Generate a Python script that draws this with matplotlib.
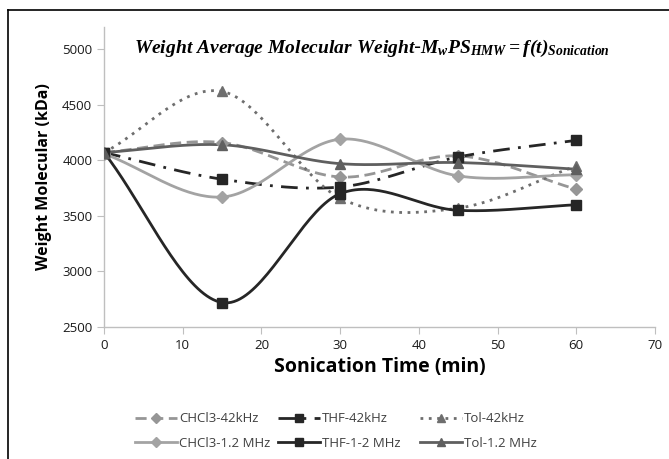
import numpy as np
import matplotlib
matplotlib.use("Agg")
import matplotlib.pyplot as plt
from matplotlib.lines import Line2D

time_min = [0, 15, 30, 45, 60]
chcl3_42khz = [4070, 4160, 3850, 4040, 3740]
thf_42khz = [4070, 3830, 3760, 4030, 4180]
tol_42khz = [4070, 4620, 3660, 3570, 3950]
chcl3_12mhz = [4060, 3670, 4190, 3860, 3870]
thf_12mhz = [4070, 2720, 3700, 3550, 3600]
tol_12mhz = [4070, 4140, 3970, 3980, 3920]

series_labels = ["CHCl3-42kHz", "THF-42kHz", "Tol-42kHz",
                 "CHCl3-1.2 MHz", "THF-1-2 MHz", "Tol-1.2 MHz"]
x_ticks = [0, 10, 20, 30, 40, 50, 60, 70]
y_ticks = [2500, 3000, 3500, 4000, 4500, 5000]


def smooth(x, y, n=40):
    x = np.asarray(x, float)
    y = np.asarray(y, float)
    px = np.concatenate([[2 * x[0] - x[1]], x, [2 * x[-1] - x[-2]]])
    py = np.concatenate([[2 * y[0] - y[1]], y, [2 * y[-1] - y[-2]]])
    xs, ys = [], []
    t = np.linspace(0, 1, n)
    for i in range(1, len(px) - 2):
        p0, p1, p2, p3 = px[i - 1], px[i], px[i + 1], px[i + 2]
        q0, q1, q2, q3 = py[i - 1], py[i], py[i + 1], py[i + 2]
        bx = 0.5 * (2 * p1 + (-p0 + p2) * t + (2 * p0 - 5 * p1 + 4 * p2 - p3) * t ** 2 + (-p0 + 3 * p1 - 3 * p2 + p3) * t ** 3)
        by = 0.5 * (2 * q1 + (-q0 + q2) * t + (2 * q0 - 5 * q1 + 4 * q2 - q3) * t ** 2 + (-q0 + 3 * q1 - 3 * q2 + q3) * t ** 3)
        xs.append(bx)
        ys.append(by)
    return np.concatenate(xs), np.concatenate(ys)


plt.rcParams['mathtext.fontset'] = 'custom'
plt.rcParams['mathtext.it'] = 'Liberation Serif:italic:bold'
plt.rcParams['mathtext.rm'] = 'Liberation Serif:italic:bold'
plt.rcParams['mathtext.bf'] = 'Liberation Serif:italic:bold'

fig = plt.figure(figsize=(6.69, 4.59), dpi=100)
ax = fig.add_axes([104 / 669, 1 - 327 / 459, (655 - 104) / 669, 300 / 459])

styles = [
    dict(color="#969696", ls=(0, (4, 2)), lw=2.0, marker="D", ms=6, mc="#969696"),
    dict(color="#262626", ls=(0, (6, 3, 1, 3)), lw=2.0, marker="s", ms=7, mc="#262626"),
    dict(color="#6e6e6e", ls=(0, (1, 2)), lw=2.0, marker="^", ms=7, mc="#6e6e6e"),
    dict(color="#a3a3a3", ls="-", lw=2.0, marker="D", ms=6, mc="#a3a3a3"),
    dict(color="#262626", ls="-", lw=2.0, marker="s", ms=7, mc="#262626"),
    dict(color="#5f5f5f", ls="-", lw=2.0, marker="^", ms=7, mc="#5f5f5f"),
]
data = [chcl3_42khz, thf_42khz, tol_42khz, chcl3_12mhz, thf_12mhz, tol_12mhz]

handles = []
for vals, st, lab in zip(data, styles, series_labels):
    sx, sy = smooth(time_min, vals)
    ax.plot(sx, sy, color=st["color"], ls=st["ls"], lw=st["lw"], zorder=2)
    ax.plot(time_min, vals, ls="none", marker=st["marker"], ms=st["ms"],
            color=st["mc"], zorder=3)
    handles.append(Line2D([], [], color=st["color"], ls=st["ls"], lw=st["lw"],
                          marker=st["marker"], ms=st["ms"] - 1, mfc=st["mc"], mec=st["mc"],
                          label=lab))

ax.set_xlim(0, 70)
ax.set_ylim(2500, 5200)
ax.set_xticks(x_ticks)
ax.set_yticks(y_ticks)
for s in ["top", "right"]:
    ax.spines[s].set_visible(False)
for s in ["left", "bottom"]:
    ax.spines[s].set_color("#bfbfbf")
    ax.spines[s].set_linewidth(1.0)
ax.tick_params(axis="both", colors="#bfbfbf", labelcolor="#1a1a1a", length=5,
               labelsize=9.5, direction="out")
for lbl in ax.get_xticklabels() + ax.get_yticklabels():
    lbl.set_fontfamily("Open Sans")

ax.set_xlabel("Sonication Time (min)", fontsize=14, fontweight="bold",
              fontfamily="Open Sans", labelpad=4)
ax.set_ylabel("Weight Molecular (kDa)", fontsize=11.5, fontweight="bold",
              fontfamily="Open Sans", labelpad=7)

ax.text(0.487, 0.93,
        r"$Weight\ Average\ Molecular\ Weight$-$M_wPS_{HMW}=f(t)_{Sonication}$",
        transform=ax.transAxes, ha="center", va="center", fontsize=14)

legprops = {"family": "Open Sans", "size": 9.5}
col_x = [135, 278, 420]
for c in range(3):
    lg = fig.legend([handles[c], handles[c + 3]],
                    [series_labels[c], series_labels[c + 3]],
                    ncol=1, loc="center left",
                    bbox_to_anchor=(col_x[c] / 669, 1 - 431 / 459), frameon=False,
                    prop=legprops, handlelength=3.2, handletextpad=0.15,
                    borderpad=0, borderaxespad=0, labelspacing=0.85)
    for t in lg.get_texts():
        t.set_color("#404040")

# outer chart frame (only left and top edges are inside the image)
fig.add_artist(Line2D([8 / 669, 8 / 669], [0, 1 - 10 / 459],
                      transform=fig.transFigure, color="black", lw=1.2))
fig.add_artist(Line2D([8 / 669, 1], [1 - 10 / 459, 1 - 10 / 459],
                      transform=fig.transFigure, color="black", lw=1.2))

fig.savefig("out.png", dpi=100)
